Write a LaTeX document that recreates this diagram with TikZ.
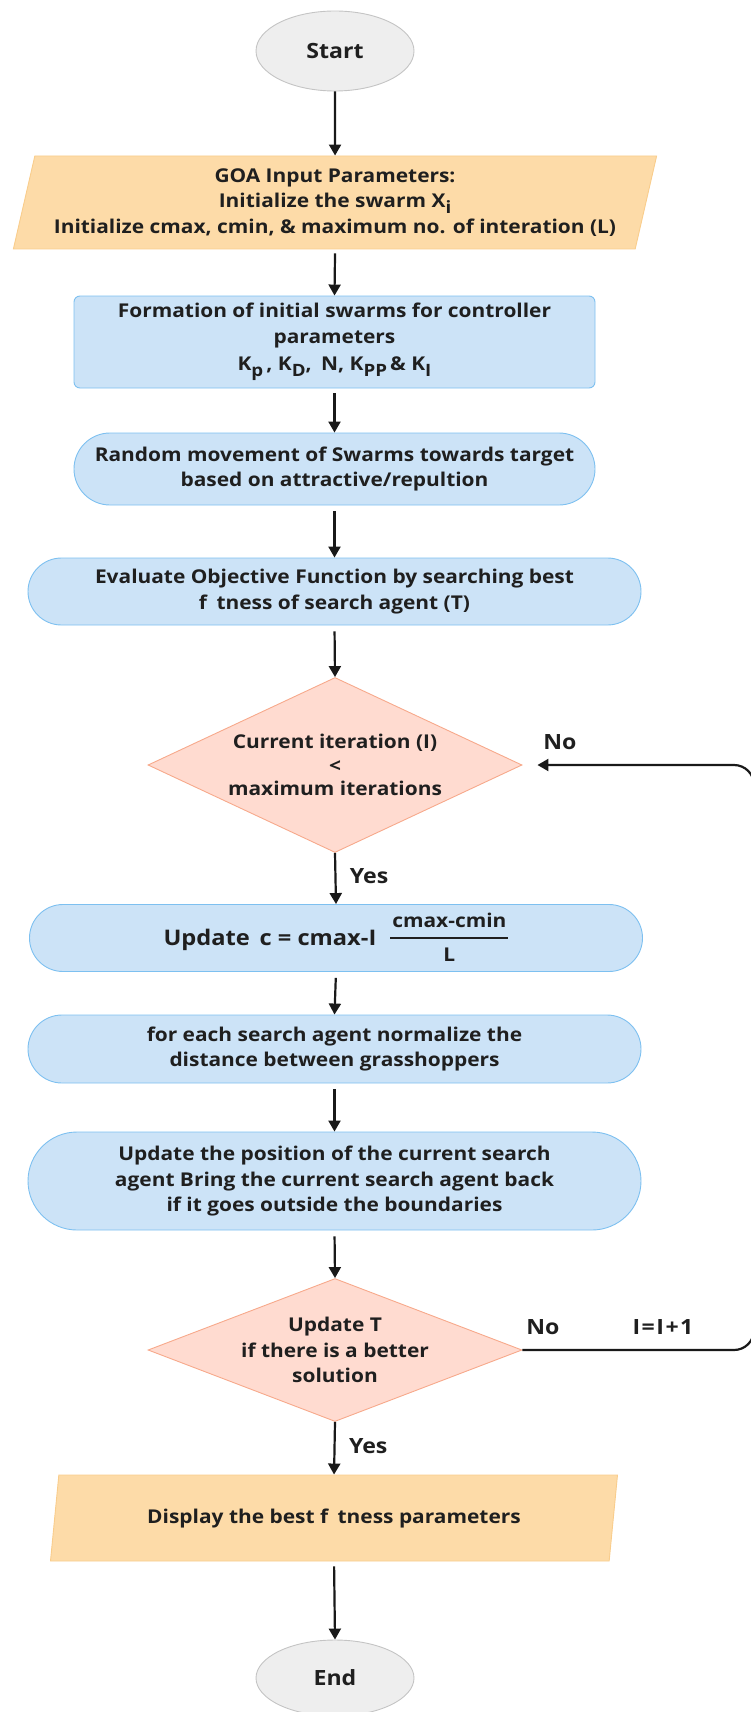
\documentclass[tikz,border=0pt]{standalone}
\usepackage{fontspec}
\setmainfont{Open Sans}[FakeStretch=1.1]
\usetikzlibrary{shapes.geometric,shapes.misc,arrows.meta}
\definecolor{termf}{HTML}{EEEEEE}
\definecolor{termd}{HTML}{C4C4C4}
\definecolor{iof}{HTML}{FDDBA8}
\definecolor{iod}{HTML}{F9CD8C}
\definecolor{procf}{HTML}{CCE3F7}
\definecolor{procd}{HTML}{7DC0F0}
\definecolor{decf}{HTML}{FFDBD0}
\definecolor{decd}{HTML}{F7A98B}
\newcommand{\subs}[1]{\raisebox{-0.32em}{\fontsize{17}{17}\selectfont #1}}
\newcommand{\fracbox}[2]{\raisebox{2.6pt}{$\vcenter{\hbox{\fontsize{19}{25.5}\selectfont\setlength{\arrayrulewidth}{1.8pt}\renewcommand{\arraystretch}{1.25}\begin{tabular}{@{\kern2pt}c@{\kern2pt}}#1\\\hline #2\end{tabular}}}$}}
\begin{document}
\begin{tikzpicture}[x=1pt,y=-1pt,
  every node/.style={font=\fontsize{19}{25.5}\selectfont\bfseries, align=center, text=black!88},
  term/.style={ellipse, draw=termd, fill=termf, line width=0.9pt, inner sep=0pt,
    minimum width=158pt, font=\fontsize{21}{25}\selectfont\bfseries},
  iobox/.style={trapezium, trapezium stretches=true, trapezium left angle=73.5,
    trapezium right angle=106.5, draw=iod, fill=iof, line width=0.9pt, inner sep=0pt},
  procbox/.style={rectangle, rounded corners=6pt, draw=procd, fill=procf, line width=0.9pt, inner sep=0pt},
  pill/.style={rounded rectangle, draw=procd, fill=procf, line width=0.9pt, inner sep=0pt},
  decbox/.style={diamond, draw=decd, fill=decf, line width=0.9pt, inner sep=-6pt},
  arr/.style={-{Triangle[length=11pt,width=12pt]}, line width=2.2pt, black!90},
  lbl/.style={font=\fontsize{21}{24}\selectfont\bfseries}
]
\useasboundingbox (0,0) rectangle (751,1712);

\node[term, minimum height=80pt] (start) at (335,51) {Start};

\node[iobox, minimum width=648pt, minimum height=93pt] (p1) at (335,202.5)
  {GOA Input Parameters:\\
   Initialize the swarm X\subs{i}\\
   Initialize cmax, cmin, \& maximum no. of interation (L)};

\node[procbox, minimum width=521pt, minimum height=92pt] (f) at (334.5,342)
  {Formation of initial swarms for controller\\
   parameters\\[2pt]
   K\subs{p}\,, K\subs{D},\enspace N, K\subs{PP}\,\& K\subs{I}};

\node[pill, minimum width=521pt, minimum height=72pt] (r) at (334.5,469)
  {Random movement of Swarms towards target\\
   based on attractive/repultion};

\node[pill, minimum width=613pt, minimum height=67pt] (e) at (334.5,591.5)
  {Evaluate Objective Function by searching best\\
   f\enspace tness of search agent (T)};

\node[decbox, aspect=2.14, minimum width=374pt, minimum height=175pt] (d1) at (335,765)
  {Current iteration (I)\\[-2pt] <\\[-2pt] maximum iterations};

\node[pill, minimum width=613pt, minimum height=67pt, font=\fontsize{21.5}{25.5}\selectfont\bfseries] (u) at (336,938)
  {Update\, c = cmax-I\kern14pt\fracbox{cmax-cmin}{L}};

\node[pill, minimum width=613pt, minimum height=68pt] (n) at (334.5,1049)
  {for each search agent normalize the\\
   distance between grasshoppers};

\node[pill, minimum width=613pt, minimum height=98pt] (b) at (334.5,1181)
  {Update the position of the current search\\
   agent Bring the current search agent back\\
   if it goes outside the boundaries};

\node[decbox, aspect=2.6, minimum width=374pt, minimum height=143pt] (d2) at (335,1350)
  {Update T\\ if there is a better\\ solution};

\node[iobox, minimum width=568pt, minimum height=86pt] (p2) at (334,1518)
  {Display the best f\enspace tness parameters};

\node[term, minimum height=76pt] (end) at (335,1678) {End};

% connectors
\draw[arr] (start.south) -- (p1.north);
\draw[arr, shorten <=4pt] (p1.south) -- (f.north);
\draw[arr, shorten <=5pt] (f.south) -- (r.north);
\draw[arr, shorten <=6pt] (r.south) -- (e.north);
\draw[arr, shorten <=6pt] (e.south) -- (d1.north);
\draw[arr] (d1.south) -- node[lbl, right=10pt, pos=0.45] (yes1) {Yes} (u.north);
\draw[arr, shorten <=6pt] (u.south) -- (n.north);
\draw[arr, shorten <=6pt] (n.south) -- (b.north);
\draw[arr, shorten <=6pt] (b.south) -- (d2.north);
\draw[arr] (d2.south) -- node[lbl, right=10pt, pos=0.45] (yes2) {Yes} (p2.north);
\draw[arr, shorten <=5pt] (p2.south) -- (end.north);

\coordinate (cb) at (754,1350);
\coordinate (ct) at (754,765);
\draw[arr, rounded corners=20pt, shorten >=15pt] (d2.east) -- (cb) -- (ct) -- (d1.east);

\node[lbl] (no1) at (560,742) {No};
\node[lbl] (no2) at (543,1327) {No};
\node[lbl] (inc) at (663,1327) {I{\kern1.5pt}={\kern1.5pt}I{\kern1.5pt}+{\kern1.5pt}1};
\end{tikzpicture}
\end{document}
